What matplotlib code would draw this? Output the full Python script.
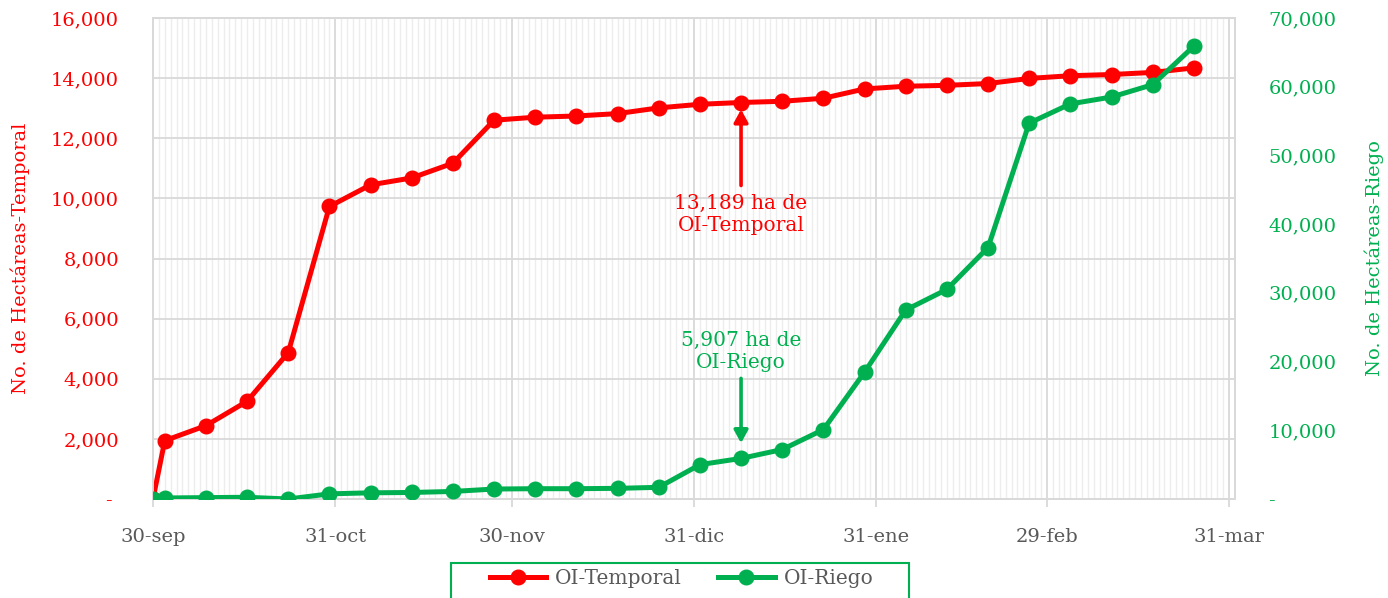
import matplotlib
matplotlib.use('Agg')
import matplotlib.pyplot as plt
import matplotlib.dates as mdates
import matplotlib.ticker as mticker
from matplotlib.patches import Rectangle
from matplotlib.lines import Line2D
import pandas as pd

plt.rcParams['font.family'] = ['DejaVu Serif']

# datos semanales acumulados
fechas = ['2019-09-30', '2019-10-02', '2019-10-09', '2019-10-16', '2019-10-23',
          '2019-10-30', '2019-11-06', '2019-11-13', '2019-11-20', '2019-11-27',
          '2019-12-04', '2019-12-11', '2019-12-18', '2019-12-25', '2020-01-01',
          '2020-01-08', '2020-01-15', '2020-01-22', '2020-01-29', '2020-02-05',
          '2020-02-12', '2020-02-19', '2020-02-26', '2020-03-04', '2020-03-11',
          '2020-03-18', '2020-03-25']
temporal = [0, 1940, 2440, 3250, 4870, 9730, 10450, 10680, 11170, 12600,
            12700, 12740, 12820, 13010, 13130, 13189, 13230, 13330, 13640, 13730,
            13760, 13820, 13990, 14080, 14120, 14190, 14340]
riego = [0, 150, 200, 250, 0, 750, 900, 950, 1100, 1450,
         1500, 1500, 1550, 1700, 5000, 5907, 7200, 10100, 18450, 27500,
         30500, 36600, 54700, 57500, 58500, 60300, 65900]

tick_fechas = ['2019-09-30', '2019-10-31', '2019-11-30', '2019-12-31',
               '2020-01-31', '2020-02-29', '2020-03-31']
tick_labels = ['30-sep', '31-oct', '30-nov', '31-dic', '31-ene', '29-feb', '31-mar']

nota_fecha = '2020-01-08'
nota_temporal = 13189
nota_riego = 5907

ROJO = '#FF0000'
VERDE = '#00B050'
GRIS = '#595959'
GRID = '#D9D9D9'

x = pd.to_datetime(fechas)

fig = plt.figure(figsize=(13.88, 5.98), dpi=100)
ax = fig.add_axes([153/1388, 1 - 499/598, 1082/1388, 481/598])
ax2 = ax.twinx()

ax.plot(x, temporal, color=ROJO, lw=3.6, marker='o', ms=10.5, label='OI-Temporal', zorder=3)
ax2.plot(x, riego, color=VERDE, lw=3.6, marker='o', ms=10.5, label='OI-Riego', zorder=3)

ax.set_xlim(pd.Timestamp('2019-09-30'), pd.Timestamp('2020-04-01'))
ax.set_ylim(0, 16000)
ax2.set_ylim(0, 70000)
ax.yaxis.set_major_locator(mticker.MultipleLocator(2000))
ax2.yaxis.set_major_locator(mticker.MultipleLocator(10000))

fmt_izq = mticker.FuncFormatter(lambda v, p: '- ' if v == 0 else f'{v:,.0f}')
fmt_der = mticker.FuncFormatter(lambda v, p: '-' if v == 0 else f'{v:,.0f}')
ax.yaxis.set_major_formatter(fmt_izq)
ax2.yaxis.set_major_formatter(fmt_der)

ax.xaxis.set_major_locator(mticker.FixedLocator(mdates.date2num(pd.to_datetime(tick_fechas))))
ax.xaxis.set_major_formatter(mticker.FixedFormatter(tick_labels))
ax.xaxis.set_minor_locator(mdates.DayLocator())

ax.grid(True, which='major', axis='both', color=GRID, lw=1.3, zorder=0)
ax.grid(True, which='minor', axis='x', color='#EDEDED', lw=1.0, zorder=0)
ax.set_axisbelow(True)

for a in (ax, ax2):
    for s in a.spines.values():
        s.set_color(GRID)
        s.set_linewidth(1.3)

ax.tick_params(axis='x', which='major', length=6, width=1.3, color=GRID,
               labelsize=14, labelcolor=GRIS, pad=15)
ax.tick_params(axis='x', which='minor', length=0)
ax.tick_params(axis='y', length=0, labelsize=14, labelcolor=ROJO, pad=24.5)
ax2.tick_params(axis='y', length=0, labelsize=14, labelcolor=VERDE, pad=24)

ax.set_ylabel('No. de Hectáreas-Temporal', color=ROJO, fontsize=14)
ax.yaxis.set_label_coords(-(153 - 30) / 1082, 0.5)
ax2.set_ylabel('No. de Hectáreas-Riego', color=VERDE, fontsize=14)
ax2.yaxis.set_label_coords((1365 - 153) / 1082, 0.5)

# anotaciones
xf = pd.Timestamp(nota_fecha)
flecha = '-|>,head_length=0.4,head_width=0.22'
ax.annotate('', xy=(xf, nota_temporal), xytext=(0, -83), textcoords='offset pixels',
            arrowprops=dict(arrowstyle=flecha, color=ROJO, lw=2.6, shrinkA=0, shrinkB=5,
                            mutation_scale=19), zorder=4)
ax.annotate(f'{nota_temporal:,} ha de\nOI-Temporal', xy=(xf, nota_temporal),
            xytext=(0, -112), textcoords='offset pixels', ha='center', va='center',
            color=ROJO, fontsize=14.5, linespacing=1.2)
ax2.annotate('', xy=(xf, nota_riego), xytext=(0, 80), textcoords='offset pixels',
             arrowprops=dict(arrowstyle=flecha, color=VERDE, lw=2.6, shrinkA=0, shrinkB=11,
                             mutation_scale=19), zorder=4)
ax2.annotate(f'{nota_riego:,} ha de\nOI-Riego', xy=(xf, nota_riego),
             xytext=(0, 107), textcoords='offset pixels', ha='center', va='center',
             color=VERDE, fontsize=14.5, linespacing=1.2)

# leyenda
handles = [Line2D([], [], color=ROJO, lw=3.6, marker='o', ms=10.5),
           Line2D([], [], color=VERDE, lw=3.6, marker='o', ms=10.5)]
leg = fig.legend(handles, ['OI-Temporal', 'OI-Riego'], loc='center',
                 bbox_to_anchor=(681.5/1388, 1 - 579/598), ncol=2, frameon=False,
                 fontsize=14.5, handlelength=2.8, handletextpad=0.45, columnspacing=1.8,
                 borderpad=0)
for t in leg.get_texts():
    t.set_color(GRIS)
fig.patches.append(Rectangle((451/1388, -0.02), 458/1388, (598 - 563)/598 + 0.02,
                             transform=fig.transFigure, fill=False, edgecolor=VERDE, lw=1.5))

fig.savefig('out.png', dpi=100)
